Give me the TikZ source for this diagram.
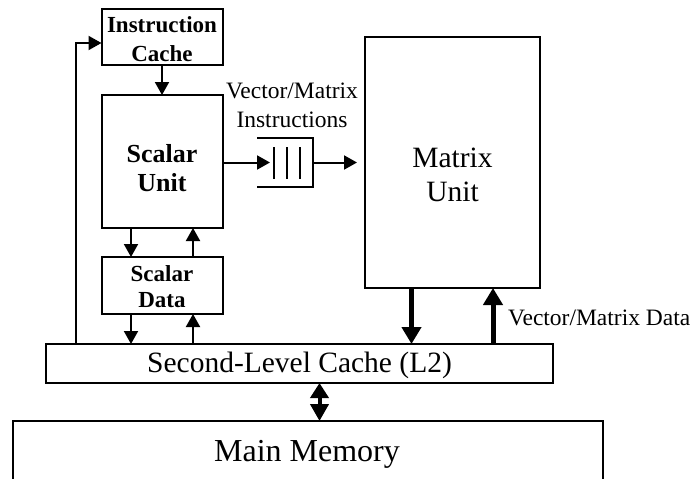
\documentclass[tikz,border=0pt]{standalone}
\usepackage{fontspec}
\setmainfont{Liberation Serif}
\usetikzlibrary{arrows.meta,calc}
\begin{document}
\begin{tikzpicture}[x=1pt,y=-1pt,
  box/.style={draw,line width=2pt,inner sep=0pt,outer sep=0pt,rectangle},
  lbl/.style={anchor=base,inner sep=0pt},
  bsmall/.style={font=\fontsize{23}{27}\selectfont\bfseries},
  bmid/.style={font=\fontsize{26}{30}\selectfont\bfseries},
  rsmall/.style={font=\fontsize{23.5}{28}\selectfont},
  rbig/.style={font=\fontsize{29.5}{34}\selectfont},
  rhuge/.style={font=\fontsize{32}{36}\selectfont},
  thinarr/.style={line width=2pt,-{Triangle[length=13pt,width=14pt]}},
  thickarr/.style={line width=5pt,-{Triangle[length=17pt,width=19pt]}},
  dblarr/.style={line width=4pt,{Triangle[length=15pt,width=18pt]}-{Triangle[length=17pt,width=18pt]}},
  plain/.style={line width=2pt}]
\useasboundingbox (0,0) rectangle (696,479);
% boxes
\node[box,minimum width=121pt,minimum height=56pt] (ic) at (162,37) {};
\node[box,minimum width=121pt,minimum height=133pt] (su) at (162,161.5) {};
\node[box,minimum width=121pt,minimum height=57pt] (sd) at (162,285.5) {};
\node[box,minimum width=175pt,minimum height=251pt] (mu) at (452.5,162.5) {};
\node[box,minimum width=507pt,minimum height=39pt] (l2) at (299.5,363.5) {};
\node[box,minimum width=590pt,minimum height=80pt] (mm) at (308,461) {};
\node[inner sep=0pt,outer sep=0pt,minimum width=43pt,minimum height=49pt] (queue) at (291.5,162.5) {};
% texts
\node[lbl,bsmall] (ic1) at (162,32) {Instruction};
\node[lbl,bsmall] (ic2) at (162,61) {Cache};
\node[lbl,bmid] (su1) at (162,162) {Scalar};
\node[lbl,bmid] (su2) at (162,191) {Unit};
\node[lbl,bsmall] (sd1) at (162,281) {Scalar};
\node[lbl,bsmall] (sd2) at (162,307) {Data};
\node[lbl,rsmall] (vm1) at (292,98) {Vector/Matrix};
\node[lbl,rsmall] (vm2) at (292,127) {Instructions};
\node[lbl,rbig] (mu1) at (452.5,167) {Matrix};
\node[lbl,rbig] (mu2) at (452.5,201) {Unit};
\node[lbl,rbig] (l2t) at (299.5,372) {Second-Level Cache (L2)};
\node[lbl,rhuge] (mmt) at (307,461) {Main Memory};
\node[lbl,rsmall,anchor=base west] (vmd) at (508,325) {Vector/Matrix Data};
% queue drawing
\draw[plain] ($(queue.north west)+(-13,0)$) -- (queue.north east) -- (queue.south east) -- ($(queue.south west)+(-13,0)$);
\foreach \bx in {274,287,300} \draw[plain] (\bx,147) -- (\bx,179);
% helper coordinates
\coordinate (cl) at (131,0);
\coordinate (cr) at (193,0);
\coordinate (ml) at (411.5,0);
\coordinate (mr) at (493,0);
\coordinate (dd) at (319.5,0);
\coordinate (fb) at (76,43);
% connectors
\draw[thinarr] (ic.south) -- (su.north);
\draw[thinarr] (su.east |- queue.west) -- (queue.west);
\draw[thinarr,shorten >=8pt] (queue.east) -- (queue.east -| mu.west);
\draw[thinarr] (su.south -| cl) -- (sd.north -| cl);
\draw[thinarr] (sd.north -| cr) -- (su.south -| cr);
\draw[thinarr] (sd.south -| cl) -- (l2.north -| cl);
\draw[thinarr] (l2.north -| cr) -- (sd.south -| cr);
\draw[thinarr] (l2.north -| fb) -- (fb) -- (fb -| ic.west);
\draw[thickarr] (mu.south -| ml) -- (l2.north -| ml);
\draw[thickarr] (l2.north -| mr) -- (mu.south -| mr);
\draw[dblarr] (l2.south -| dd) -- (mm.north -| dd);
\end{tikzpicture}
\end{document}
